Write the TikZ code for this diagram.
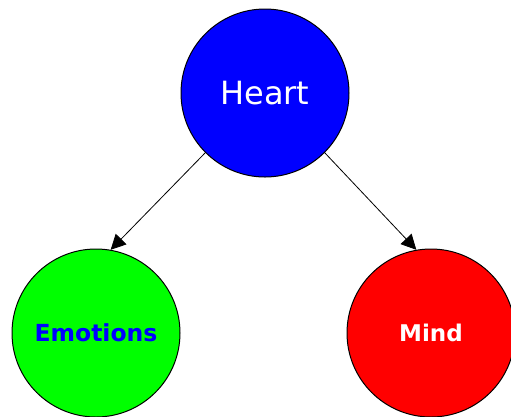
\documentclass[tikz,border=0pt]{standalone}
\usepackage{fontspec}
\setmainfont{DejaVu Sans}
\usetikzlibrary{arrows.meta}
\tikzset{
  topic/.style={circle,draw=black,line width=1pt,minimum size=168pt,inner sep=0pt},
  heart topic/.style={topic,fill=blue,text=white,font=\fontsize{32}{36}\selectfont},
  emotion topic/.style={topic,fill=green,text=blue,font=\bfseries\fontsize{23.5}{28}\selectfont},
  mind topic/.style={topic,fill=red,text=white,font=\bfseries\fontsize{23}{28}\selectfont},
  link/.style={line width=0.8pt,-{Triangle[length=15pt,width=15pt]}},
}

\begin{document}
\begin{tikzpicture}[x=1pt,y=-1pt]
\useasboundingbox (0,0) rectangle (511,416);
\clip (0,0) rectangle (511,416);
\node[heart topic] (heart) at (265,93) {Heart};
\node[emotion topic] (emotions) at (96,333) {Emotions};
\node[mind topic] (mind) at (431,333) {Mind};
\draw[link] (heart.225) -- (emotions.80);
\draw[link] (heart.315) -- (mind.100);
\end{tikzpicture}
\end{document}
